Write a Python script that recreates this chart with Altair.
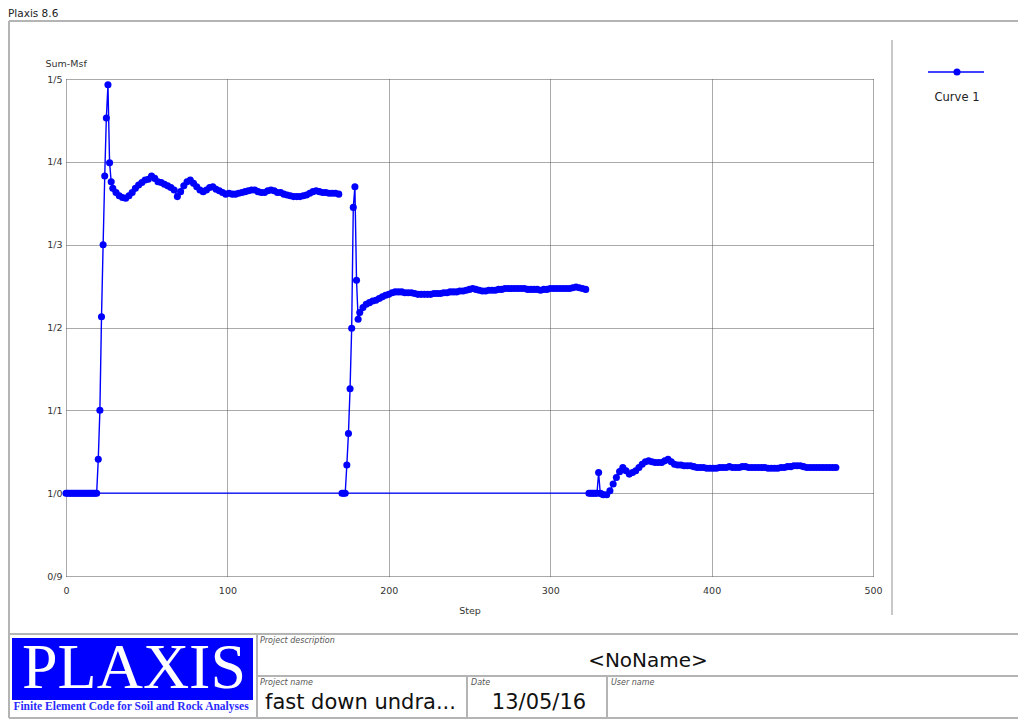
import altair as alt
import pandas as pd

# ---------------- data ----------------
p1_steps = list(range(0, 30)) + list(range(31, 170, 2))
p1_msf = [1.0] * 20 + [1.041, 1.100, 1.213, 1.300, 1.383, 1.453, 1.493, 1.399, 1.376, 1.368] + [
    1.363, 1.359, 1.357, 1.356, 1.359, 1.363, 1.368, 1.372, 1.375, 1.378,
    1.379, 1.383, 1.380, 1.376, 1.375, 1.373, 1.371, 1.369, 1.366, 1.358,
    1.364, 1.371, 1.376, 1.378, 1.374, 1.370, 1.366, 1.364, 1.366, 1.369,
    1.370, 1.367, 1.365, 1.363, 1.361, 1.362, 1.361, 1.361, 1.362, 1.363,
    1.364, 1.365, 1.366, 1.366, 1.364, 1.363, 1.363, 1.365, 1.366, 1.365,
    1.363, 1.363, 1.361, 1.360, 1.359, 1.358, 1.358, 1.358, 1.359, 1.360,
    1.362, 1.364, 1.365, 1.364, 1.363, 1.363, 1.362, 1.362, 1.362, 1.361]

p2_steps = list(range(171, 183)) + list(range(184, 323, 2))
p2_msf = [1.0, 1.0, 1.0, 1.034, 1.072, 1.126, 1.199, 1.345, 1.370, 1.257, 1.210, 1.218] + [
    1.224, 1.228, 1.230, 1.232, 1.233, 1.235, 1.237, 1.239, 1.240, 1.242,
    1.243, 1.243, 1.243, 1.242, 1.242, 1.242, 1.241, 1.240, 1.240, 1.240,
    1.240, 1.240, 1.241, 1.241, 1.241, 1.242, 1.242, 1.243, 1.243, 1.243,
    1.244, 1.244, 1.245, 1.246, 1.247, 1.246, 1.245, 1.244, 1.244, 1.245,
    1.245, 1.245, 1.246, 1.246, 1.247, 1.247, 1.247, 1.247, 1.247, 1.247,
    1.247, 1.246, 1.246, 1.246, 1.246, 1.245, 1.246, 1.246, 1.247, 1.247,
    1.247, 1.247, 1.247, 1.247, 1.247, 1.248, 1.249, 1.248, 1.247, 1.246]

p3_steps = list(range(324, 334)) + list(range(335, 478, 2))
p3_msf = [1.0, 1.0, 1.0, 1.0, 1.0, 1.0, 1.025, 1.0, 0.999, 0.998] + [
    0.998, 1.003, 1.011, 1.019, 1.026, 1.031, 1.027, 1.023, 1.025, 1.027,
    1.031, 1.035, 1.038, 1.039, 1.038, 1.037, 1.037, 1.037, 1.039, 1.041,
    1.038, 1.035, 1.034, 1.034, 1.033, 1.033, 1.033, 1.032, 1.031, 1.031,
    1.031, 1.030, 1.030, 1.030, 1.030, 1.031, 1.031, 1.031, 1.032, 1.031,
    1.031, 1.031, 1.032, 1.032, 1.031, 1.031, 1.031, 1.031, 1.031, 1.031,
    1.030, 1.030, 1.030, 1.030, 1.031, 1.031, 1.032, 1.032, 1.033, 1.033,
    1.033, 1.032, 1.031, 1.031, 1.031, 1.031, 1.031, 1.031, 1.031, 1.031,
    1.031, 1.031]

# each later phase's curve starts from the point it was calculated from
p2_start = (19, 1.0)
p3_start = (173, 1.0)

x_ticks = [0, 100, 200, 300, 400, 500]
y_ticks = [0.9, 1.0, 1.1, 1.2, 1.3, 1.4, 1.5]

# ---------------- tables ----------------
pts = pd.DataFrame({
    "step": p1_steps + p2_steps + p3_steps,
    "msf": p1_msf + p2_msf + p3_msf,
})
line_rows = (
    [("A", s, m) for s, m in zip(p1_steps, p1_msf)]
    + [("B", p2_start[0], p2_start[1])] + [("B", s, m) for s, m in zip(p2_steps, p2_msf)]
    + [("C", p3_start[0], p3_start[1])] + [("C", s, m) for s, m in zip(p3_steps, p3_msf)]
)
lines = pd.DataFrame(line_rows, columns=["seg", "step", "msf"])
one = pd.DataFrame({"a": [0]})

FONT = "DejaVu Sans"
BLUE = "#0000ff"
GRAY = "#b4b4b4"

x_enc = alt.X("step:Q", scale=alt.Scale(domain=[0, 500], nice=False),
              axis=alt.Axis(values=x_ticks, format="d", title="Step", titleY=34,
                            titleBaseline="middle", labelPadding=9, labelFlush=False))
y_enc = alt.Y("msf:Q", scale=alt.Scale(domain=[0.9, 1.5], nice=False, zero=False),
              axis=alt.Axis(values=y_ticks, title="Sum-Msf", titleAngle=0, titleAlign="left",
                            titleBaseline="middle", titleX=-21, titleY=-16, labelPadding=4,
                            labelFlush=False,
                            labelExpr="replace(format(datum.value, '.1f'), '.', '/')"))

curve = alt.Chart(lines).mark_line(color=BLUE, strokeWidth=1.4).encode(
    x=x_enc, y=y_enc, detail="seg:N", order="step:Q")
dots = alt.Chart(pts).mark_circle(color=BLUE, size=50, opacity=1).encode(x="step:Q", y="msf:Q")


def hrule(x1, x2, y, color=GRAY, w=2):
    return alt.Chart(one).mark_rule(color=color, strokeWidth=w).encode(
        x=alt.value(x1), x2=alt.value(x2), y=alt.value(y))


def vrule(x, y1, y2, color=GRAY, w=2):
    return alt.Chart(one).mark_rule(color=color, strokeWidth=w).encode(
        x=alt.value(x), y=alt.value(y1), y2=alt.value(y2))


def label(txt, x, y, size=9.5, align="left", color="#333333", font=FONT, style="normal",
          weight="normal", baseline="middle"):
    return alt.Chart(one).mark_text(text=txt, align=align, baseline=baseline, font=font,
                                    fontSize=size, color=color, fontStyle=style,
                                    fontWeight=weight).encode(x=alt.value(x), y=alt.value(y))


frame = [
    hrule(-57, 960, -58),
    vrule(-57, -58, 639),
    hrule(-57, 960, 555),
    hrule(-57, 960, 639),
    hrule(191, 960, 597),
    vrule(191, 555, 639),
    vrule(401, 597, 639),
    vrule(541, 597, 639),
    vrule(826, -39, 536, color="#c8c8c8"),
]

logo = alt.Chart(one).mark_rect(color=BLUE).encode(
    x=alt.value(-54), x2=alt.value(187), y=alt.value(559), y2=alt.value(621))

texts = [
    label("Plaxis 8.6", -58, -65, size=10.5, color="#222222"),
    label("PLAXIS", 68, 609, size=64, align="center", color="white",
          font="Liberation Serif", baseline="alphabetic"),
    label("Finite Element Code for Soil and Rock Analyses", 65, 628, size=11.5, align="center",
          color="#2a2aff", font="Liberation Serif", weight="bold"),
    label("Project description", 194, 562, size=8, color="#555555", style="italic"),
    label("<NoName>", 582, 582, size=20, align="center", color="#111111"),
    label("Project name", 194, 604, size=8, color="#555555", style="italic"),
    label("fast down undra...", 199, 624, size=21, color="#111111"),
    label("Date", 405, 604, size=8, color="#555555", style="italic"),
    label("13/05/16", 473, 624, size=21, align="center", color="#111111"),
    label("User name", 545, 604, size=8, color="#555555", style="italic"),
    label("Version 8.6.0.565", -58, 645, size=8, color="#555555"),
]

legend = [
    hrule(862, 918, -7, color=BLUE, w=1.4),
    alt.Chart(one).mark_circle(color=BLUE, size=50, opacity=1).encode(
        x=alt.value(891), y=alt.value(-7)),
    label("Curve 1", 891, 19, size=11.5, align="center", color="#222222"),
]

chart = alt.layer(*frame, logo, curve, dots, *legend, *texts).properties(
    width=807, height=497,
    autosize=alt.AutoSizeParams(type="none"),
    padding={"left": 58, "top": 71, "right": 145, "bottom": 143},
    background="white",
).configure_view(stroke=None).configure_axis(
    grid=True, gridColor="#555555", gridDash=[1, 1], gridWidth=1,
    domain=False, ticks=False, tickSize=0,
    labelFont=FONT, labelFontSize=9.5, labelColor="#333333",
    titleFont=FONT, titleFontSize=9.5, titleFontWeight="normal", titleColor="#333333",
)

chart.save("out.html", embed_options={"renderer": "svg", "actions": False})
